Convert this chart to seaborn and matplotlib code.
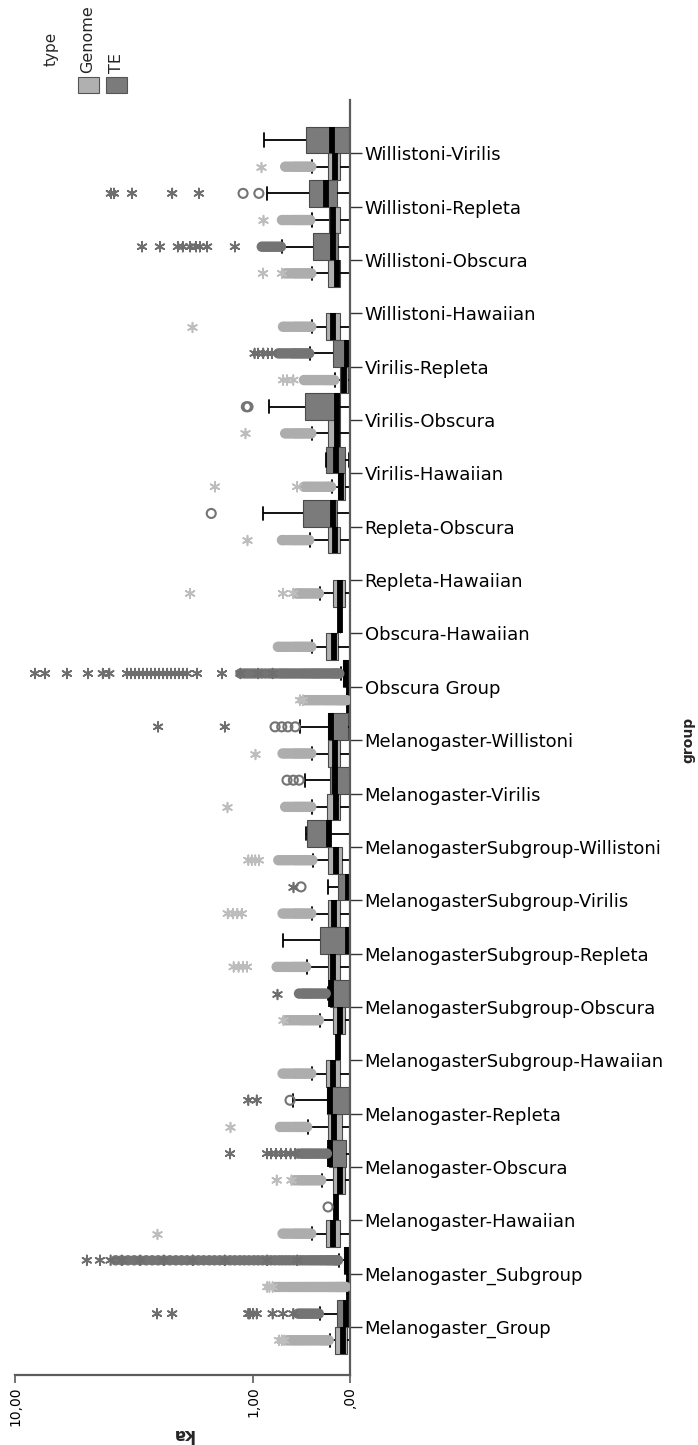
import numpy as np
import pandas as pd
import matplotlib
matplotlib.use("Agg")
import matplotlib.pyplot as plt
import seaborn as sns
from matplotlib.patches import Rectangle

sns.set_theme(style="white")
plt.rcParams["font.family"] = ["DejaVu Sans"]

# ---------------- data (ka values) ----------------
categories = [
    "Melanogaster_Group", "Melanogaster_Subgroup", "Melanogaster-Hawaiian",
    "Melanogaster-Obscura", "Melanogaster-Repleta", "MelanogasterSubgroup-Hawaiian",
    "MelanogasterSubgroup-Obscura", "MelanogasterSubgroup-Repleta",
    "MelanogasterSubgroup-Virilis", "MelanogasterSubgroup-Willistoni",
    "Melanogaster-Virilis", "Melanogaster-Willistoni", "Obscura Group",
    "Obscura-Hawaiian", "Repleta-Hawaiian", "Repleta-Obscura", "Virilis-Hawaiian",
    "Virilis-Obscura", "Virilis-Repleta", "Willistoni-Hawaiian",
    "Willistoni-Obscura", "Willistoni-Repleta", "Willistoni-Virilis",
]
types = ["Genome", "TE"]

# Genome box summaries (low whisker, Q1, median, Q3, high whisker)
genome_lo = [0, 0, 0, 0, 0, 0, 0, 0, 0, 0, 0, 0, 0, 0, 0, 0, 0, 0, 0, 0, 0, 0, 0]
genome_q1 = [0.022, 0.003, 0.074, 0.036, 0.058, 0.074, 0.036, 0.074, 0.074, 0.058, 0.074, 0.074,
             0.002, 0.089, 0.036, 0.074, 0.036, 0.074, 0.014, 0.074, 0.074, 0.074, 0.074]
genome_med = [0.051, 0.008, 0.129, 0.074, 0.121, 0.129, 0.074, 0.129, 0.121, 0.105, 0.105, 0.113,
              0.006, 0.121, 0.074, 0.113, 0.066, 0.097, 0.044, 0.129, 0.097, 0.129, 0.113]
genome_q3 = [0.113, 0.015, 0.188, 0.129, 0.171, 0.188, 0.129, 0.171, 0.171, 0.171, 0.179, 0.171,
             0.012, 0.188, 0.129, 0.171, 0.089, 0.171, 0.074, 0.188, 0.171, 0.162, 0.171]
genome_hi = [0.154, 0.025, 0.313, 0.222, 0.351, 0.313, 0.24, 0.36, 0.313, 0.304, 0.313, 0.313,
             0.02, 0.313, 0.24, 0.331, 0.137, 0.313, 0.113, 0.313, 0.313, 0.313, 0.31]

# TE box summaries (None = no TE box for that group)
te_lo = [0, 0, 0.095, 0, 0, 0.085, 0, 0, 0, 0, 0, 0, 0, 0.07, None, 0, 0.01, 0, 0, None, 0, 0, 0]
te_q1 = [0.007, 0.005, 0.10, 0.03, 0.004, 0.087, 0.01, 0.003, 0.003, 0.15, 0.003, 0.014,
         0.004, 0.072, None, 0.097, 0.036, 0.074, 0.002, None, 0.089, 0.097, 0.004]
te_med = [0.029, 0.025, 0.105, 0.15, 0.154, 0.089, 0.145, 0.014, 0.014, 0.16, 0.113, 0.145,
          0.03, 0.074, None, 0.129, 0.105, 0.097, 0.022, None, 0.129, 0.19, 0.14]
te_q3 = [0.097, 0.045, 0.11, 0.16, 0.179, 0.091, 0.155, 0.24, 0.089, 0.36, 0.154, 0.171,
         0.055, 0.076, None, 0.40, 0.188, 0.38, 0.129, None, 0.304, 0.34, 0.37]
te_hi = [0.24, 0.08, 0.115, 0.17, 0.50, 0.093, 0.17, 0.615, 0.171, 0.37, 0.38, 0.43,
         0.07, 0.078, None, 0.864, 0.19, 0.786, 0.331, None, 0.627, 0.81, 0.85]

# Genome outliers: dense runs of circles, and extremes (asterisks)
genome_dense = [
    [0.165, 0.18, 0.195, 0.21, 0.225, 0.24, 0.26, 0.28, 0.30, 0.32, 0.34, 0.36, 0.38, 0.40, 0.42,
     0.44, 0.46, 0.48, 0.50, 0.52, 0.545, 0.57],
    [0.03, 0.04, 0.05, 0.06, 0.07, 0.08, 0.09, 0.10, 0.115, 0.13, 0.145, 0.16, 0.175, 0.19, 0.21,
     0.23, 0.25, 0.27, 0.29, 0.31, 0.33, 0.355, 0.38, 0.405, 0.43, 0.46, 0.49, 0.52, 0.55, 0.58,
     0.62, 0.66, 0.70],
    [0.32, 0.34, 0.36, 0.38, 0.40, 0.42, 0.44, 0.46, 0.48, 0.50, 0.53, 0.56, 0.59, 0.62],
    [0.23, 0.25, 0.27, 0.29, 0.31, 0.33, 0.35, 0.37, 0.39, 0.41, 0.43, 0.46, 0.49],
    [0.36, 0.38, 0.40, 0.42, 0.44, 0.46, 0.48, 0.50, 0.53, 0.56, 0.59, 0.62, 0.65],
    [0.32, 0.34, 0.36, 0.38, 0.40, 0.42, 0.44, 0.46, 0.48, 0.50, 0.53, 0.56, 0.59, 0.62],
    [0.25, 0.27, 0.29, 0.31, 0.33, 0.35, 0.37, 0.39, 0.41, 0.43, 0.46, 0.49, 0.52, 0.55, 0.58],
    [0.37, 0.39, 0.41, 0.43, 0.45, 0.47, 0.49, 0.51, 0.54, 0.57, 0.60, 0.63, 0.66, 0.69],
    [0.32, 0.34, 0.36, 0.38, 0.40, 0.42, 0.44, 0.46, 0.48, 0.50, 0.53, 0.56, 0.59, 0.62],
    [0.31, 0.33, 0.35, 0.37, 0.39, 0.41, 0.43, 0.45, 0.47, 0.49, 0.52, 0.55, 0.58, 0.61, 0.64, 0.67],
    [0.32, 0.34, 0.36, 0.38, 0.40, 0.42, 0.44, 0.46, 0.48, 0.50, 0.53, 0.56, 0.59],
    [0.32, 0.34, 0.36, 0.38, 0.40, 0.42, 0.44, 0.46, 0.48, 0.50, 0.53, 0.56, 0.59, 0.62],
    [0.025, 0.035, 0.045, 0.055, 0.065, 0.075, 0.085, 0.095, 0.11, 0.125, 0.14, 0.155, 0.17,
     0.185, 0.20, 0.22, 0.24, 0.26, 0.28, 0.30, 0.32, 0.34, 0.36, 0.38],
    [0.32, 0.34, 0.36, 0.38, 0.40, 0.42, 0.44, 0.46, 0.48, 0.50, 0.53, 0.56, 0.59, 0.62, 0.65, 0.675],
    [0.25, 0.27, 0.29, 0.31, 0.33, 0.35, 0.37, 0.39, 0.41, 0.43, 0.45, 0.47],
    [0.34, 0.36, 0.38, 0.40, 0.42, 0.44, 0.46, 0.48, 0.50, 0.52, 0.55, 0.58, 0.61, 0.627],
    [0.145, 0.16, 0.175, 0.19, 0.21, 0.23, 0.25, 0.27, 0.29, 0.31, 0.33, 0.35, 0.37, 0.39],
    [0.32, 0.34, 0.36, 0.38, 0.40, 0.42, 0.44, 0.46, 0.48, 0.50, 0.53, 0.56, 0.59],
    [0.12, 0.135, 0.15, 0.165, 0.18, 0.195, 0.21, 0.23, 0.25, 0.27, 0.29, 0.31, 0.33, 0.35, 0.37, 0.39],
    [0.32, 0.34, 0.36, 0.38, 0.40, 0.42, 0.44, 0.46, 0.48, 0.50, 0.53, 0.56, 0.59, 0.615],
    [0.32, 0.34, 0.36, 0.38, 0.40, 0.42, 0.44, 0.46, 0.48, 0.50, 0.53, 0.56, 0.59],
    [0.33, 0.35, 0.37, 0.39, 0.41, 0.43, 0.45, 0.47, 0.49, 0.51, 0.54, 0.57, 0.60, 0.627],
    [0.32, 0.34, 0.36, 0.38, 0.40, 0.42, 0.44, 0.46, 0.48, 0.50, 0.53, 0.56, 0.59],
]
genome_stars = [
    [0.60, 0.63, 0.66], [0.74, 0.78, 0.81], [2.98], [0.52, 0.69], [1.36], [], [0.62],
    [1.09, 1.15, 1.22, 1.30], [1.17, 1.24, 1.31, 1.40], [0.92, 0.97, 1.02, 1.07], [1.41],
    [0.975], [0.40, 0.43], [], [0.50, 0.615, 2.14], [1.09], [0.46, 1.63], [1.12],
    [0.50, 0.57, 0.615], [2.10], [0.627, 0.864], [0.864], [0.89],
]

# TE outliers: open circles, dense runs of circles, and extremes (asterisks)
te_open = [[], [], [0.17], [], [0.536], [], [], [], [0.42], [], [0.44, 0.50, 0.57],
           [0.48, 0.56, 0.63, 0.71], [], [], [], [1.70], [], [1.075, 1.10], [], [], [],
           [0.92, 1.15], []]
te_dense = [
    [0.25, 0.27, 0.29, 0.31, 0.33, 0.35, 0.37, 0.39, 0.41, 0.43, 0.45],
    [0.09, 0.10, 0.11, 0.12, 0.135, 0.15, 0.165, 0.18, 0.20, 0.22, 0.24, 0.265, 0.29, 0.315,
     0.34, 0.37, 0.40, 0.43, 0.46, 0.50, 0.54, 0.58, 0.62, 0.66, 0.71, 0.76, 0.81, 0.87, 0.93,
     0.99, 1.06, 1.13, 1.20, 1.28, 1.36, 1.45, 1.54, 1.64, 1.74, 1.85, 1.96, 2.08, 2.21, 2.34,
     2.48, 2.63, 2.79, 2.95, 3.12, 3.30, 3.49, 3.69, 3.90, 4.12, 4.35],
    [],
    [0.18, 0.20, 0.22, 0.24, 0.26, 0.28, 0.30, 0.32, 0.34, 0.36, 0.38, 0.40, 0.42, 0.45],
    [], [],
    [0.19, 0.21, 0.23, 0.25, 0.27, 0.29, 0.31, 0.33, 0.35, 0.37, 0.39, 0.41, 0.44],
    [], [], [], [], [],
    [0.08, 0.095, 0.11, 0.125, 0.14, 0.16, 0.18, 0.20, 0.22, 0.24, 0.26, 0.28, 0.30, 0.32,
     0.345, 0.37, 0.395, 0.42, 0.45, 0.48, 0.51, 0.54, 0.57, 0.60, 0.63, 0.66, 0.70, 0.74,
     0.78, 0.83, 0.88, 0.93, 0.98, 1.03, 1.08, 1.13, 1.19],
    [], [], [], [], [],
    [0.34, 0.36, 0.38, 0.40, 0.42, 0.44, 0.46, 0.48, 0.50, 0.52, 0.55, 0.58, 0.61, 0.64, 0.67],
    [],
    [0.64, 0.67, 0.70, 0.73, 0.76, 0.79, 0.82, 0.85, 0.88],
    [], [],
]
te_stars = [
    [0.50, 0.615, 0.74, 0.95, 1.0, 1.05, 1.07, 2.57, 2.98],
    [0.46, 0.81, 1.45, 2.08, 2.79, 3.49, 4.12, 4.55, 4.99, 5.58],
    [],
    [0.48, 0.53, 0.58, 0.64, 0.70, 0.76, 0.81, 1.36],
    [0.95, 1.07],
    [],
    [0.69],
    [],
    [0.50],
    [], [],
    [1.45, 2.95],
    [0.74, 0.93, 1.19, 1.50, 1.99, 2.21, 2.31, 2.40, 2.50, 2.60, 2.70, 2.81, 2.92, 3.04, 3.16,
     3.28, 3.40, 3.53, 3.66, 3.80, 3.93, 4.60, 4.87, 5.53, 6.59, 7.87, 8.53],
    [], [], [], [], [],
    [0.75, 0.80, 0.86, 0.93, 0.98],
    [],
    [1.28, 1.78, 1.93, 2.01, 2.14, 2.31, 2.43, 2.90, 3.43],
    [1.95, 2.57, 3.76, 4.42, 4.54],
    [],
]

tick_values = [10, 1, 0]
tick_labels = ["10,00", "1,00", ",00"]

# ---------------- styling ----------------
GENOME_BOX, TE_BOX = "#b0b0b0", "#7b7b7b"
GENOME_PT, TE_PT = "#adadad", "#747474"
GENOME_STAR, TE_STAR = "#bdbdbd", "#6e6e6e"
AXIS_GRAY = "#5c5c5c"

W, H = 698, 1445
fig = plt.figure(figsize=(W / 100, H / 100), dpi=100)
ax = fig.add_axes([15 / W, 70 / H, 335 / W, 1275 / H])

# ---------------- boxes ----------------
rows = []
for tname, cols in (("Genome", (genome_lo, genome_q1, genome_med, genome_q3, genome_hi)),
                    ("TE", (te_lo, te_q1, te_med, te_q3, te_hi))):
    for i, g in enumerate(categories):
        if cols[0][i] is None:
            continue
        for c in cols:
            rows.append((g, tname, c[i]))
box_df = pd.DataFrame(rows, columns=["group", "type", "ka"])

sns.boxplot(
    data=box_df, x="ka", y="group", hue="type", order=categories, hue_order=types,
    palette={"Genome": GENOME_BOX, "TE": TE_BOX}, orient="h", width=1.0, gap=0,
    dodge=True, whis=(0, 100), showfliers=False, saturation=1, linecolor="#4a4a4a",
    linewidth=0.8, legend=False, ax=ax,
    medianprops=dict(color="black", linewidth=4.2),
    whiskerprops=dict(color="black", linewidth=1.3),
    capprops=dict(color="black", linewidth=1.3),
)

# ---------------- outliers ----------------
# 8 hue slots so that the dodge offsets (+/-0.25) line up with the boxes
slots = ["s0", "Genome", "s2", "s3", "s4", "s5", "TE", "s7"]


def outlier_frame(series):
    recs = []
    for tname, lists in series.items():
        for g, vals in zip(categories, lists):
            for v in vals:
                recs.append((g, tname, v))
    return pd.DataFrame(recs, columns=["group", "type", "ka"])


def draw_points(series, colors, marker, size, lw, hollow):
    df = outlier_frame(series)
    pal = {s: "#000000" for s in slots}
    pal.update(colors)
    before = len(ax.collections)
    sns.stripplot(data=df, x="ka", y="group", hue="type", order=categories,
                  hue_order=slots, palette=pal, dodge=True, jitter=False, orient="h",
                  marker=marker, size=size, linewidth=lw, legend=False, ax=ax)
    for coll in ax.collections[before:]:
        fc = coll.get_facecolors()
        if len(fc):
            coll.set_edgecolors(fc)
        if hollow:
            coll.set_facecolors("none")
        coll.set_linewidths(lw)


draw_points({"Genome": genome_dense, "TE": te_dense},
            {"Genome": GENOME_PT, "TE": TE_PT}, "o", 6.5, 1.0, False)
draw_points({"TE": te_open}, {"Genome": GENOME_PT, "TE": TE_PT}, "o", 6.5, 1.5, True)
draw_points({"Genome": genome_stars, "TE": te_stars},
            {"Genome": GENOME_STAR, "TE": TE_STAR}, (6, 2, 0), 7, 1.2, False)

# ---------------- axes ----------------
ax.set_xscale("function",
              functions=(lambda x: np.log10(np.maximum(1 + np.asarray(x, float), 1e-9)),
                         lambda y: 10 ** np.asarray(y, float) - 1))
ax.set_xlim(10, 0)
ax.set_ylim(-0.9, 23.0)
ax.set_xticks(tick_values)
ax.set_xticklabels(tick_labels, rotation=90, fontsize=10)
ax.xaxis.set_minor_locator(matplotlib.ticker.NullLocator())
ax.set_xlabel("")
ax.set_ylabel("")
ax.yaxis.tick_right()
ax.tick_params(axis="y", which="major", left=False, right=True, labelleft=False,
               labelright=True, length=8.5, width=1.0, color="#333333", pad=2,
               labelsize=13, labelcolor="black")
ax.tick_params(axis="x", which="major", bottom=True, length=6, width=1.2,
               color=AXIS_GRAY, pad=2, labelcolor="black")
ax.grid(False)
for side in ("top", "left"):
    ax.spines[side].set_visible(False)
for side in ("right", "bottom"):
    ax.spines[side].set_visible(True)
    ax.spines[side].set_color(AXIS_GRAY)
    ax.spines[side].set_linewidth(1.6)

# axis titles
fig.text(183 / W, 1 - 1434 / H, "ka", rotation=180, ha="center", va="center",
         fontsize=12, fontweight="bold")
fig.text(688 / W, 1 - 740 / H, "group", rotation=90, ha="center", va="center",
         fontsize=10, fontweight="bold")

# legend (rotated, as in the reference)
fig.text(51 / W, 1 - 66 / H, "type", rotation=90, ha="center", va="bottom", fontsize=11)
for label, color, xc in (("Genome", GENOME_BOX, 88), ("TE", TE_BOX, 116.5)):
    fig.add_artist(Rectangle(((xc - 10.5) / W, 1 - 93 / H), 21 / W, 16 / H,
                             transform=fig.transFigure, facecolor=color,
                             edgecolor="#555555", linewidth=0.8))
    fig.text(xc / W, 1 - 73 / H, label, rotation=90, ha="center", va="bottom", fontsize=11.5)

fig.savefig("out.png", dpi=100)
